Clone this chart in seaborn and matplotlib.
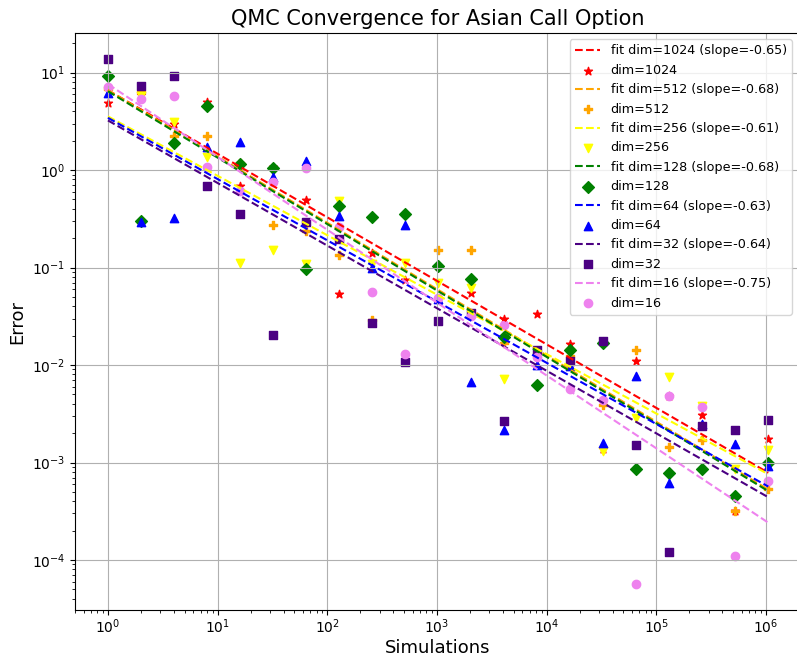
import numpy as np
import pandas as pd
import matplotlib
matplotlib.use("Agg")
import matplotlib.pyplot as plt
import seaborn as sns

# number of simulations: 2^0 .. 2^20
sims = [2 ** k for k in range(21)]

# absolute pricing error per dimension
err_1024 = [4.84, 5.9, 2.97, 4.96, 0.69, 1.08, 0.49, 0.053, 0.14, 0.0737, 0.103,
            0.055, 0.030, 0.033, 0.0166, 0.00139, 0.0109, 0.00478, 0.00305, 0.00032, 0.00175]
err_512 = [6.8, 6.3, 2.25, 2.25, 1.17, 0.27, 0.237, 0.136, 0.0293, 0.353, 0.15,
           0.153, 0.0169, 0.0062, 0.0124, 0.0039, 0.0142, 0.00145, 0.00169, 0.00032, 0.00053]
err_256 = [6.4, 5.8, 3.14, 1.35, 0.112, 0.153, 0.108, 0.485, 0.108, 0.11, 0.0698,
           0.062, 0.0072, 0.012, 0.0135, 0.00131, 0.00287, 0.00757, 0.00378, 0.00086, 0.00133]
err_128 = [9.3, 0.30, 1.88, 4.58, 1.15, 1.05, 0.096, 0.43, 0.327, 0.35, 0.103,
           0.077, 0.0195, 0.0062, 0.0141, 0.0169, 0.00086, 0.00078, 0.00086, 0.00045, 0.00099]
err_64 = [6.1, 0.29, 0.32, 1.71, 1.96, 0.855, 1.25, 0.34, 0.10, 0.272, 0.047,
          0.0067, 0.00214, 0.00995, 0.0098, 0.0016, 0.0077, 0.00062, 0.0025, 0.00156, 0.00092]
err_32 = [13.7, 7.2, 9.3, 0.68, 0.353, 0.0201, 0.29, 0.194, 0.0267, 0.0108, 0.028,
          0.0344, 0.00265, 0.0141, 0.0109, 0.0175, 0.0015, 0.000121, 0.00235, 0.00218, 0.00275]
err_16 = [7.06, 5.36, 5.8, 1.08, 0.61, 0.75, 1.04, 0.258, 0.0565, 0.013, 0.049,
          0.032, 0.0255, 0.012, 0.0057, 0.0044, 0.000057, 0.0048, 0.0037, 0.000111, 0.00065]

dims = [1024, 512, 256, 128, 64, 32, 16]
errors = [err_1024, err_512, err_256, err_128, err_64, err_32, err_16]
colors = ["red", "orange", "yellow", "green", "blue", "indigo", "violet"]
markers = ["*", "P", "v", "D", "^", "s", "o"]

fig, ax = plt.subplots(figsize=(7.97, 6.56), dpi=100)
fig.subplots_adjust(left=0.094, right=1.0054, top=0.9497, bottom=0.0701)

x = np.array(sims, dtype=float)
for dim, err, color, marker in zip(dims, errors, colors, markers):
    y = np.array(err, dtype=float)
    slope, intercept = np.polyfit(np.log(x), np.log(y), 1)
    fit = np.exp(intercept) * x ** slope
    sns.lineplot(x=x, y=fit, ax=ax, color=color, linestyle="--", linewidth=1.5,
                 label=f"fit dim={dim} (slope={slope:.2f})")
    sns.scatterplot(x=x, y=y, ax=ax, color=color, marker=marker, s=36,
                    edgecolor=color, linewidth=1.0, label=f"dim={dim}")

ax.set_xscale("log")
ax.set_yscale("log")
ax.grid(True, which="major", color="#b0b0b0", linewidth=0.8)
ax.set_title("QMC Convergence for Asian Call Option", fontsize=15)
ax.set_xlabel("Simulations", fontsize=13, labelpad=2)
ax.set_ylabel("Error", fontsize=13)
ax.tick_params(axis="x", which="major", pad=2)
ax.legend(loc="upper right", bbox_to_anchor=(0.9959, 1.0), fontsize=9.2)

fig.savefig("out.png", dpi=100)
